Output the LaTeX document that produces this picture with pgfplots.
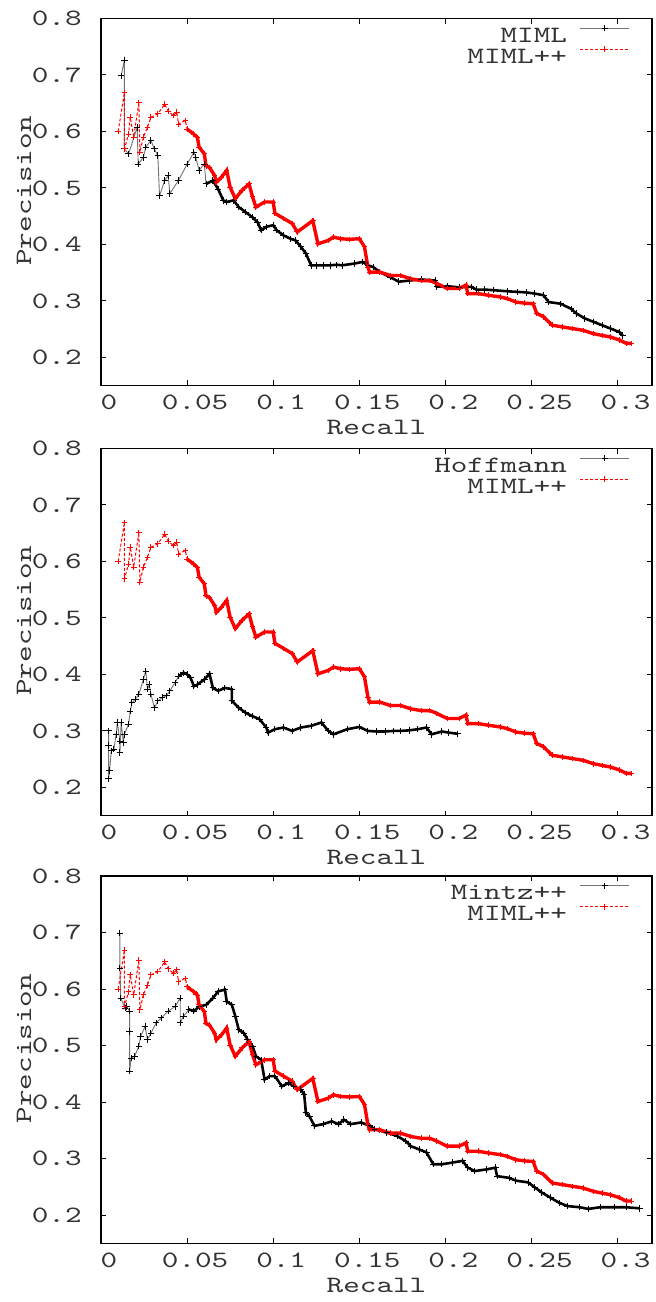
\documentclass[border=0pt]{standalone}
\usepackage{fontspec}
\setmainfont{lmmono10-regular}[Extension=.otf, FakeStretch=1.35]
\usepackage{pgfplots}
\usepackage{pgfplotstable}
\pgfplotsset{compat=1.18}

% MIML++ is the same curve in all three panels
\pgfplotstableread{
x y
0.0100 0.600
0.0136 0.669
0.0136 0.569
0.0160 0.595
0.0170 0.625
0.0190 0.590
0.0220 0.651
0.0226 0.563
0.0246 0.590
0.0270 0.607
0.0290 0.625
0.0330 0.631
0.0370 0.648
0.0390 0.636
0.0420 0.628
0.0440 0.634
0.0450 0.613
0.0490 0.619
0.0500 0.604
}\mimlppA
\pgfplotstableread{
x y
0.0500 0.604
0.0540 0.595
0.0560 0.589
0.0570 0.572
0.0600 0.560
0.0610 0.539
0.0630 0.536
0.0660 0.522
0.0670 0.510
0.0700 0.519
0.0730 0.531
0.0750 0.501
0.0780 0.481
0.0820 0.496
0.0860 0.507
0.0880 0.484
0.0900 0.466
0.0950 0.475
0.1000 0.475
0.1010 0.455
0.1060 0.446
0.1110 0.437
0.1140 0.422
0.1230 0.442
0.1260 0.401
0.1320 0.407
0.1350 0.413
0.1390 0.410
0.1445 0.409
0.1500 0.410
0.1530 0.396
0.1550 0.360
0.1560 0.351
0.1620 0.351
0.1680 0.345
0.1740 0.345
0.1800 0.339
0.1860 0.336
0.1910 0.336
0.1950 0.331
0.2010 0.322
0.2080 0.322
0.2120 0.328
0.2130 0.313
0.2190 0.313
0.2250 0.310
0.2320 0.307
0.2360 0.304
0.2410 0.298
0.2460 0.296
0.2510 0.295
0.2530 0.278
0.2570 0.272
0.2620 0.257
0.2680 0.254
0.2740 0.251
0.2800 0.248
0.2860 0.242
0.2910 0.239
0.2960 0.236
0.3010 0.231
0.3050 0.225
0.3080 0.225
}\mimlppB

\pgfplotsset{
  gp/.style={
    scale only axis, width=275.5pt, height=183.7pt,
    anchor=north west,
    xmin=0, xmax=0.32, ymin=0.15, ymax=0.8,
    xtick={0,0.05,0.1,0.15,0.2,0.25,0.3},
    xticklabels={0,0.05,0.1,0.15,0.2,0.25,0.3},
    ytick={0.2,0.3,0.4,0.5,0.6,0.7,0.8},
    yticklabels={0.2,0.3,0.4,0.5,0.6,0.7,0.8},
    tick align=inside, major tick length=2.6pt,
    tick style={black, line width=0.5pt},
    axis line style={black, line width=0.6pt},
    xticklabel style={anchor=base, inner sep=0pt, yshift=-11.8pt, xshift=4pt, text=black!80},
    yticklabel style={anchor=east, inner sep=0pt, xshift=-9.5pt, text=black!80},
    xlabel=Recall, ylabel=Precision,
    xlabel style={at={(axis description cs:0.5,-0.134)}, anchor=base, inner sep=0pt, text=black!80},
    ylabel style={at={(axis description cs:-0.127,0.53)}, anchor=base, inner sep=0pt, text=black!80},
    legend cell align=right, legend plot pos=right,
    legend image code/.code={
      \draw[mark repeat=2, mark phase=2, ##1] plot coordinates {(0pt,3.5pt) (12.25pt,3.5pt) (24.5pt,3.5pt)};
    },
    legend style={at={(axis description cs:1,1)}, anchor=north east,
      xshift=-11pt, yshift=-3.35pt, draw=none, fill=none,
      inner sep=0pt, outer sep=0pt, column sep=6.5pt, row sep=2pt,
      nodes={inner sep=0pt, text height=7pt, text depth=0pt, text=black!80}},
  },
  blk/.style={color=black!55, line width=0.45pt, mark=+, mark size=1.6pt,
    mark options={black, solid, line width=0.5pt}},
  blkd/.style={blk, color=black, line width=1.3pt},
  rd/.style={color=red, line width=0.5pt, dash pattern=on 1.5pt off 1pt, mark=+, mark size=1.4pt,
    mark options={red, solid, line width=0.5pt}},
  rdd/.style={rd, solid, line width=1.7pt},
}

\begin{document}
\begin{tikzpicture}[font=\fontsize{11.7}{13}\selectfont]
\useasboundingbox (0,0) rectangle (327.5pt,-651pt);

% panel 1: MIML vs MIML++
\begin{axis}[gp, at={(50.5pt,-9.15pt)}]
\addplot[blk] coordinates {
(0.0117,0.698) (0.0136,0.726) (0.0136,0.569) (0.0160,0.560) (0.0210,0.607)
(0.0216,0.542) (0.0246,0.554) (0.0260,0.572) (0.0290,0.584) (0.0310,0.569)
(0.0330,0.557) (0.0340,0.486) (0.0370,0.513) (0.0390,0.522) (0.0400,0.490)
(0.0450,0.513) (0.0500,0.542) (0.0540,0.563) (0.0550,0.554) (0.0570,0.531)
(0.0600,0.542) (0.0610,0.507)};
\addplot[rd] table {\mimlppA};
\addplot[blkd, forget plot] coordinates {
(0.0610,0.507) (0.0650,0.513) (0.0680,0.498) (0.0710,0.478) (0.0730,0.475)
(0.0770,0.478) (0.0800,0.466) (0.0840,0.457) (0.0880,0.448) (0.0910,0.439)
(0.0930,0.425) (0.0960,0.431) (0.1000,0.434) (0.1020,0.425) (0.1060,0.416)
(0.1100,0.410) (0.1130,0.407) (0.1160,0.396) (0.1190,0.384) (0.1220,0.363)
(0.1250,0.363) (0.1290,0.363) (0.1330,0.363) (0.1370,0.364) (0.1400,0.363)
(0.1470,0.366) (0.1520,0.369) (0.1550,0.363) (0.1580,0.360) (0.1620,0.351)
(0.1680,0.342) (0.1730,0.334) (0.1790,0.336) (0.1860,0.338) (0.1940,0.336)
(0.1950,0.325) (0.2010,0.326) (0.2080,0.324) (0.2150,0.325) (0.2180,0.320)
(0.2230,0.320) (0.2280,0.319) (0.2360,0.317) (0.2420,0.316) (0.2470,0.315)
(0.2520,0.313) (0.2570,0.310) (0.2600,0.298) (0.2670,0.295) (0.2730,0.286)
(0.2760,0.278) (0.2810,0.269) (0.2860,0.263) (0.2910,0.257) (0.2960,0.251)
(0.3010,0.245) (0.3030,0.239)};
\addplot[rdd, forget plot] table {\mimlppB};
\legend{MIML,MIML++}
\end{axis}

% panel 2: Hoffmann vs MIML++
\begin{axis}[gp, at={(50.5pt,-224.15pt)}]
\addplot[blk] coordinates {
(0.0044,0.300) (0.0044,0.274) (0.0044,0.215) (0.0050,0.230) (0.0060,0.265)
(0.0075,0.268) (0.0088,0.294) (0.0095,0.315) (0.0110,0.282) (0.0110,0.262)
(0.0117,0.315) (0.0130,0.279) (0.0136,0.294) (0.0160,0.312) (0.0170,0.335)
(0.0180,0.350) (0.0200,0.356) (0.0220,0.365) (0.0246,0.391) (0.0260,0.406)
(0.0270,0.374) (0.0280,0.382) (0.0290,0.365) (0.0310,0.341) (0.0330,0.353)
(0.0355,0.359) (0.0380,0.362) (0.0400,0.371) (0.0430,0.385) (0.0450,0.397)};
\addplot[rd] table {\mimlppA};
\addplot[blkd, forget plot] coordinates {
(0.0450,0.397) (0.0480,0.403) (0.0500,0.400) (0.0520,0.394) (0.0540,0.379)
(0.0560,0.382) (0.0600,0.391) (0.0630,0.401) (0.0650,0.376) (0.0680,0.371)
(0.0720,0.376) (0.0760,0.374) (0.0760,0.353) (0.0800,0.341) (0.0840,0.332)
(0.0880,0.326) (0.0920,0.321) (0.0960,0.306) (0.0970,0.297) (0.1010,0.303)
(0.1060,0.306) (0.1110,0.300) (0.1160,0.306) (0.1220,0.309) (0.1280,0.315)
(0.1320,0.300) (0.1350,0.294) (0.1430,0.303) (0.1500,0.307) (0.1550,0.300)
(0.1600,0.299) (0.1650,0.299) (0.1700,0.300) (0.1740,0.300) (0.1790,0.301)
(0.1840,0.303) (0.1890,0.306) (0.1920,0.294) (0.1980,0.299) (0.2020,0.297)
(0.2070,0.295)};
\addplot[rdd, forget plot] table {\mimlppB};
\legend{Hoffmann,MIML++}
\end{axis}

% panel 3: Mintz++ vs MIML++
\begin{axis}[gp, at={(50.5pt,-438pt)}]
\addplot[blk] coordinates {
(0.0110,0.699) (0.0110,0.637) (0.0115,0.584) (0.0140,0.566) (0.0150,0.569)
(0.0166,0.561) (0.0166,0.525) (0.0166,0.455) (0.0176,0.478) (0.0195,0.481)
(0.0220,0.499) (0.0230,0.516) (0.0256,0.534) (0.0270,0.511) (0.0290,0.522)
(0.0320,0.540) (0.0350,0.549) (0.0390,0.561) (0.0430,0.569) (0.0460,0.584)
(0.0460,0.540) (0.0480,0.552) (0.0510,0.564)};
\addplot[rd] table {\mimlppA};
\addplot[blkd, forget plot] coordinates {
(0.0510,0.564) (0.0540,0.561) (0.0570,0.569) (0.0610,0.572) (0.0650,0.584)
(0.0680,0.596) (0.0720,0.599) (0.0730,0.578) (0.0760,0.572) (0.0780,0.552)
(0.0800,0.528) (0.0830,0.522) (0.0850,0.511) (0.0880,0.499) (0.0900,0.481)
(0.0930,0.475) (0.0950,0.440) (0.0980,0.446) (0.1010,0.446) (0.1050,0.428)
(0.1090,0.434) (0.1120,0.428) (0.1160,0.422) (0.1180,0.414) (0.1190,0.381)
(0.1210,0.375) (0.1240,0.358) (0.1290,0.361) (0.1340,0.366) (0.1380,0.361)
(0.1410,0.369) (0.1450,0.361) (0.1510,0.364) (0.1560,0.358) (0.1590,0.352)
(0.1660,0.346) (0.1720,0.340) (0.1770,0.331) (0.1800,0.322) (0.1850,0.316)
(0.1890,0.311) (0.1930,0.290) (0.1980,0.290) (0.2040,0.293) (0.2100,0.296)
(0.2130,0.284) (0.2170,0.278) (0.2240,0.281) (0.2290,0.284) (0.2300,0.269)
(0.2370,0.266) (0.2410,0.261) (0.2480,0.258) (0.2520,0.249) (0.2560,0.240)
(0.2610,0.231) (0.2660,0.222) (0.2710,0.216) (0.2780,0.214) (0.2830,0.211)
(0.2900,0.214) (0.2980,0.214) (0.3050,0.214) (0.3130,0.212)};
\addplot[rdd, forget plot] table {\mimlppB};
\legend{Mintz++,MIML++}
\end{axis}
\end{tikzpicture}
\end{document}
